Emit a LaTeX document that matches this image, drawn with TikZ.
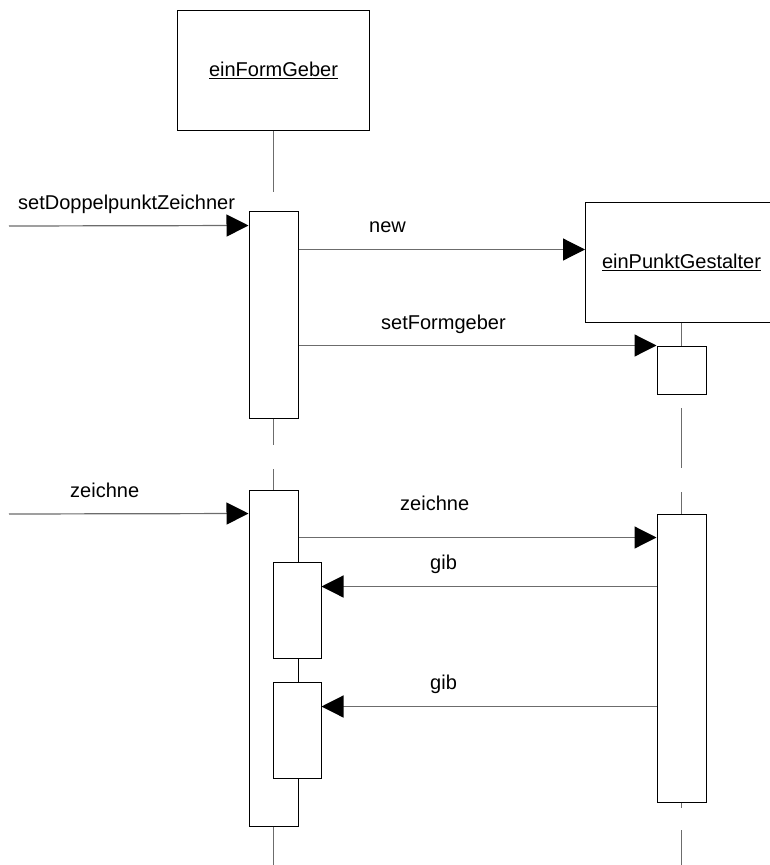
\documentclass[tikz,border=0pt]{standalone}
\usepackage{fontspec}
\setmainfont{Liberation Sans}
\usetikzlibrary{arrows.meta}

\begin{document}
\begin{tikzpicture}[x=1pt,y=-1pt,
  obj/.style={draw, rectangle, line width=1pt, minimum width=192pt, minimum height=120pt, inner sep=0pt, font=\fontsize{20}{24}\selectfont},
  act/.style={draw, rectangle, line width=1pt, fill=white, minimum width=49pt, inner sep=0pt},
  msg/.style={draw=gray!85!black, line width=1.2pt, -{Triangle[length=22pt,width=22pt,color=black]}},
  life/.style={draw=gray!85!black, line width=1.2pt},
  lbl/.style={anchor=base west, inner sep=0pt, font=\fontsize{20}{24}\selectfont}]
\useasboundingbox (0,0) rectangle (770,865);

% objects
\node[obj] (fg) at (273.5,70) {\underline{einFormGeber}};
\node[obj] (pg) at (681.5,262) {\underline{einPunktGestalter}};

% lifeline ends
\coordinate (fgL1) at (273.5,192);
\coordinate (fgL2) at (273.5,445);
\coordinate (fgL3) at (273.5,469);
\coordinate (fgL4) at (273.5,865);
\coordinate (pgL1) at (681.5,408);
\coordinate (pgL2) at (681.5,468);
\coordinate (pgL3) at (681.5,492);
\coordinate (pgL4) at (681.5,808);
\coordinate (pgL5) at (681.5,830);
\coordinate (pgL6) at (681.5,865);

% activations
\node[act, minimum height=207pt] (fgA) at (273.5,314.5) {};
\node[act, minimum height=48pt] (pgA) at (681.5,370) {};
\node[act, minimum height=336pt] (fgB) at (273.5,658) {};
\node[act, minimum height=288pt] (pgB) at (681.5,658) {};
\node[act, minimum width=48pt, minimum height=96pt] (fgC) at (297,610) {};
\node[act, minimum width=48pt, minimum height=96pt] (fgD) at (297,730) {};

\draw[life] (fg.south) -- (fgL1);
\draw[life] (fgA.south) -- (fgL2);
\draw[life] (fgL3) -- (fgB.north);
\draw[life] (fgB.south) -- (fgL4);
\draw[life] (pg.south) -- (pgA.north);
\draw[life] (pgL1) -- (pgL2);
\draw[life] (pgL3) -- (pgB.north);
\draw[life] (pgB.south) -- (pgL4);
\draw[life] (pgL5) -- (pgL6);

% messages
\coordinate (in1) at (9,226);
\coordinate (in2) at (9,514);
\draw[msg] (in1) -- ([yshift=-15pt]fgA.north west);
\draw[msg] ([yshift=-39pt]fgA.north east) -- ([yshift=-48pt]pg.north west);
\draw[msg] ([yshift=-135pt]fgA.north east) -- (pgA.north west);
\draw[msg] (in2) -- ([yshift=-24pt]fgB.north west);
\draw[msg] ([yshift=-48pt]fgB.north east) -- ([yshift=-24pt]pgB.north west);
\draw[msg] ([yshift=-73pt]pgB.north west) -- ([yshift=-25pt]fgC.north east);
\draw[msg] ([yshift=-193pt]pgB.north west) -- ([yshift=-25pt]fgD.north east);

% labels
\node[lbl] (lSet) at (18,209) {setDoppelpunktZeichner};
\node[lbl] (lNew) at (369,232) {new};
\node[lbl] (lSetFG) at (381,329) {setFormgeber};
\node[lbl] (lZ1) at (70,497) {zeichne};
\node[lbl] (lZ2) at (400,510) {zeichne};
\node[lbl] (lGib1) at (430,569) {gib};
\node[lbl] (lGib2) at (430,689) {gib};
\end{tikzpicture}
\end{document}
